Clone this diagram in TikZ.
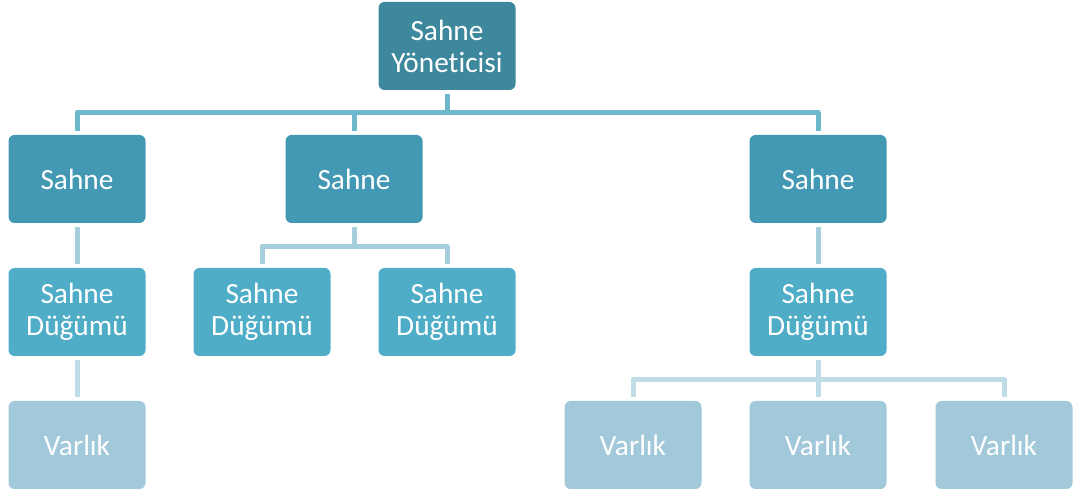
\documentclass[tikz,border=0pt]{standalone}
\usepackage{fontspec}
\setmainfont{Carlito}[Ligatures=NoCommon]
\usetikzlibrary{positioning}
\definecolor{mgrcol}{HTML}{3D889C}
\definecolor{scenecol}{HTML}{4399B3}
\definecolor{nodecol}{HTML}{4FADC8}
\definecolor{entcol}{HTML}{A2C9DA}
\definecolor{linkA}{HTML}{6FB7CD}
\definecolor{linkB}{HTML}{A6CFDE}
\definecolor{linkC}{HTML}{C0DDE7}
\tikzstyle{box}=[rectangle, rounded corners=4.5pt, minimum width=102.75pt, minimum height=66pt, inner sep=0pt, text=white, align=center, font=\fontsize{22}{24}\selectfont]
\tikzstyle{link}=[line width=3.75pt, line join=round, shorten <=3pt, shorten >=3pt]

\begin{document}
\begin{tikzpicture}[x=0.75pt, y=-0.75pt]
		\useasboundingbox (0,0) rectangle (1076,495);
		\node[box, fill=mgrcol] (mgr) at (447,46) {Sahne\\Yöneticisi};
		\foreach \n/\x in {1/77, 2/354, 3/818}
			\node[box, fill=scenecol] (scene\n) at (\x,179) {Sahne};
		\foreach \n/\x in {1/77, 2/262, 3/447, 4/818}
			\node[box, fill=nodecol] (snode\n) at (\x,312) {Sahne\\Düğümü};
		\foreach \n/\x in {1/77, 2/633, 3/818, 4/1004}
			\node[box, fill=entcol] (ent\n) at (\x,445) {Varlık};
		% manager -> scenes
		\foreach \n in {1,2,3}
			\draw[link, linkA] (mgr.south) -- ++(0,22) -| (scene\n.north);
		% scenes -> scene nodes
		\draw[link, linkB] (scene1.south) -- (snode1.north);
		\foreach \n in {2,3}
			\draw[link, linkB] (scene2.south) -- ++(0,23) -| (snode\n.north);
		\draw[link, linkB] (scene3.south) -- (snode4.north);
		% scene nodes -> entities
		\draw[link, linkC] (snode1.south) -- (ent1.north);
		\foreach \n in {2,3,4}
			\draw[link, linkC] (snode4.south) -- ++(0,23) -| (ent\n.north);
	\end{tikzpicture}
\end{document}
